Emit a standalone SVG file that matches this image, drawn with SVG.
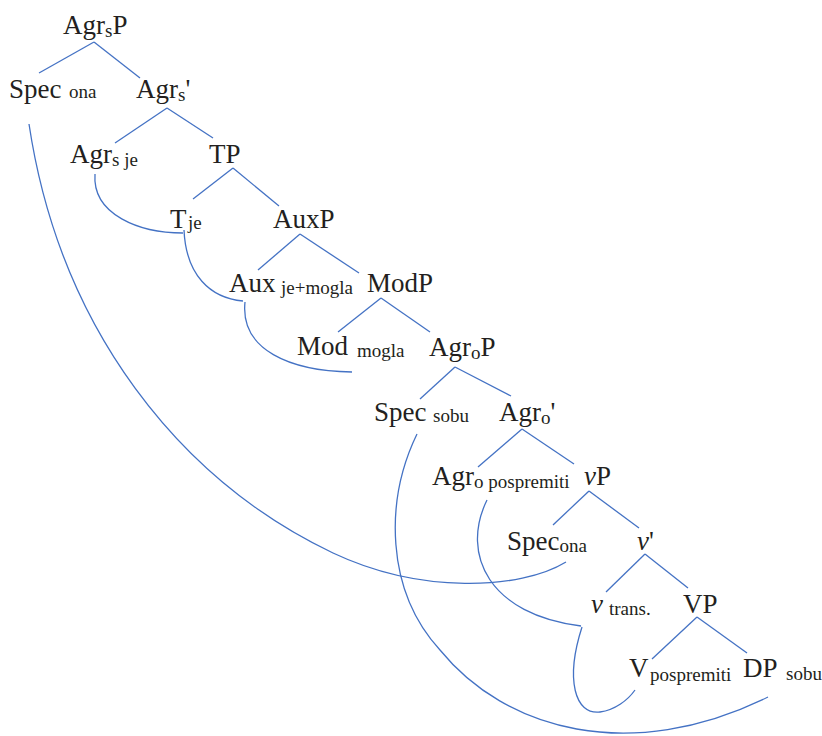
<svg xmlns="http://www.w3.org/2000/svg" width="822" height="736" viewBox="0 0 822 736">
  <style>
    text { font-family: "Liberation Serif", "DejaVu Serif", serif; font-size: 27px; fill: #231f20; }
    .sub { font-size: 19px; }
    .it { font-style: italic; }
    .branch line { stroke: #4472c4; stroke-width: 1.3; fill: none; }
    .move path { stroke: #4472c4; stroke-width: 1.3; fill: none; }
  </style>
  <rect width="822" height="736" fill="#ffffff"/>

  <!-- tree branches -->
  <g id="connectors" class="branch">
    <line x1="94" y1="42" x2="39" y2="73"/>
    <line x1="94" y1="42" x2="140" y2="78"/>
    <line x1="167" y1="108" x2="115" y2="143"/>
    <line x1="167" y1="108" x2="213" y2="138"/>
    <line x1="233" y1="168" x2="193" y2="199"/>
    <line x1="233" y1="168" x2="279" y2="206"/>
    <line x1="300" y1="234" x2="258" y2="270"/>
    <line x1="300" y1="234" x2="359" y2="273"/>
    <line x1="381" y1="298" x2="338" y2="332"/>
    <line x1="381" y1="298" x2="430" y2="332"/>
    <line x1="455" y1="367" x2="420" y2="399"/>
    <line x1="455" y1="367" x2="511" y2="396"/>
    <line x1="522" y1="429" x2="478" y2="467"/>
    <line x1="522" y1="429" x2="574" y2="464"/>
    <line x1="589" y1="491" x2="553" y2="525"/>
    <line x1="589" y1="491" x2="639" y2="528"/>
    <line x1="645" y1="554" x2="606" y2="592"/>
    <line x1="645" y1="554" x2="688" y2="588"/>
    <line x1="697" y1="617" x2="652" y2="659"/>
    <line x1="697" y1="617" x2="747" y2="653"/>
  </g>

  <!-- movement curves -->
  <g id="movement" class="move">
    <path d="M29,124 C60,330 180,480 333,553 C420,594 520,590 566,562"/>
    <path d="M95,174 C92,215 140,233 183,233"/>
    <path d="M184,230 C186,275 210,298 243,301"/>
    <path d="M245,302 C240,350 290,371 352,372"/>
    <path d="M417,434 C385,500 385,590 440,650 C505,730 630,765 768,697"/>
    <path d="M487,500 C460,555 490,615 581,626"/>
    <path d="M582,627 C565,680 575,715 600,712 C615,710 628,700 635,690"/>
  </g>

  <!-- nodes -->
  <g id="agrsP"><text x="63" y="34">Agr<tspan class="sub" dy="3">s</tspan><tspan dy="-3">P</tspan></text></g>
  <g id="spec-ona"><text x="9" y="98">Spec</text><text class="sub" x="69" y="98">ona</text></g>
  <g id="agrs-bar"><text x="136" y="98">Agr<tspan class="sub" dy="3">s</tspan><tspan dy="-3">'</tspan></text></g>
  <g id="agrs-je"><text x="70" y="163">Agr<tspan class="sub" dy="3">s je</tspan></text></g>
  <g id="tP"><text x="209" y="163">TP</text></g>
  <g id="t-je"><text x="170" y="228">T</text><text class="sub" x="188" y="229">je</text></g>
  <g id="auxP"><text x="273" y="228">AuxP</text></g>
  <g id="aux"><text x="229" y="292">Aux</text><text class="sub" x="281" y="294">je+mogla</text></g>
  <g id="modP"><text x="367" y="292">ModP</text></g>
  <g id="mod"><text x="297" y="355">Mod</text><text class="sub" x="357" y="357">mogla</text></g>
  <g id="agroP"><text x="429" y="356">Agr<tspan class="sub" dy="3">o</tspan><tspan dy="-3">P</tspan></text></g>
  <g id="spec-sobu"><text x="374" y="421">Spec</text><text class="sub" x="433" y="422">sobu</text></g>
  <g id="agro-bar"><text x="499" y="421">Agr<tspan class="sub" dy="3">o</tspan><tspan dy="-3">'</tspan></text></g>
  <g id="agro"><text x="432" y="485">Agr<tspan class="sub" dy="3">o pospremiti</tspan></text></g>
  <g id="vP"><text x="584" y="485"><tspan class="it">v</tspan>P</text></g>
  <g id="spec-ona-low"><text x="507" y="550">Spec<tspan class="sub" dy="2">ona</tspan></text></g>
  <g id="v-bar"><text x="637" y="550"><tspan class="it">v</tspan>'</text></g>
  <g id="v-trans"><text class="it" x="591" y="613">v</text><text class="sub" x="609" y="615">trans.</text></g>
  <g id="VP"><text x="683" y="613">VP</text></g>
  <g id="v-pospremiti"><text x="629" y="677">V</text><text class="sub" x="650" y="681">pospremiti</text></g>
  <g id="dP"><text x="743" y="677">DP</text><text class="sub" x="786" y="680">sobu</text></g>
</svg>
